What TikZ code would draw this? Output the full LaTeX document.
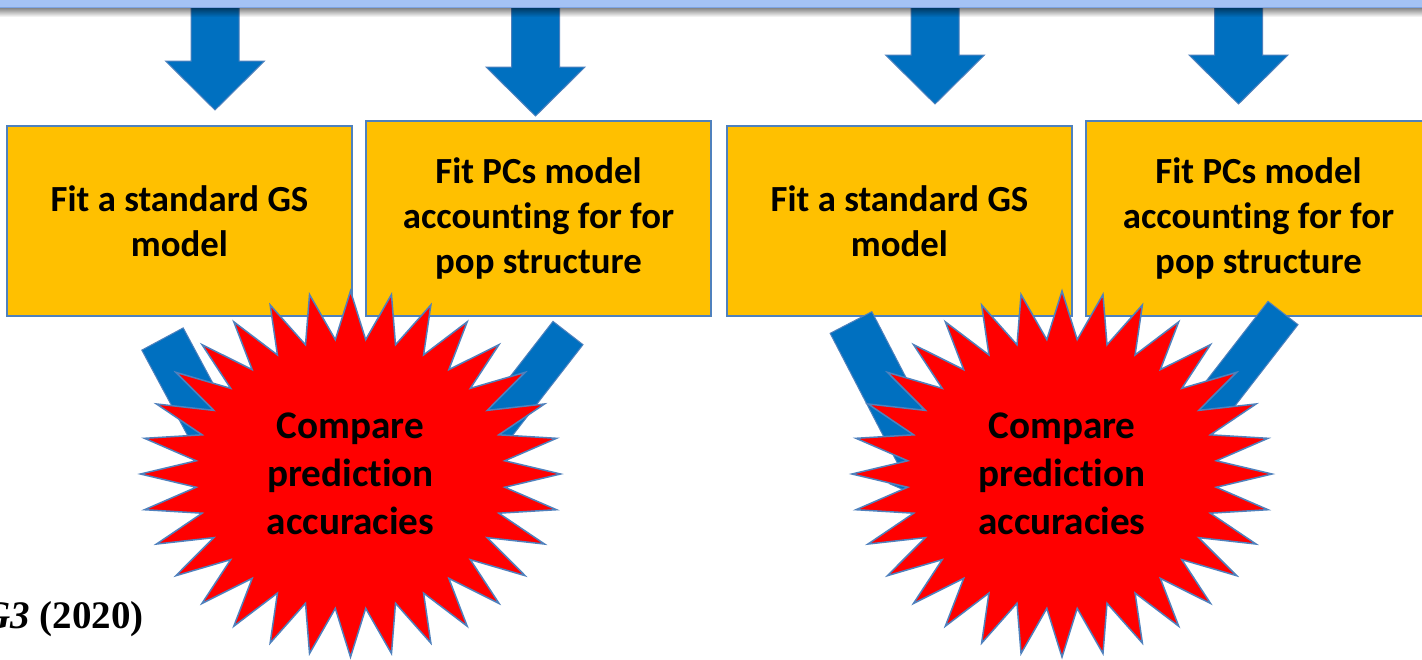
\documentclass[tikz,border=0pt]{standalone}
\usepackage{fontspec}
\setmainfont{Carlito}[Ligatures=NoCommon]
\newfontfamily\timesfont{Liberation Serif}
\usetikzlibrary{calc,fadings}

\definecolor{barblue}{RGB}{164,194,244}
\definecolor{baredge}{RGB}{126,164,226}
\definecolor{arrowblue}{RGB}{0,112,192}
\definecolor{edgeblue}{RGB}{79,129,189}
\definecolor{boxgold}{RGB}{255,192,0}
\definecolor{burstred}{RGB}{255,0,0}

% block arrow from #2 (middle of the tail edge) to #3 (tip)
% #4 half shaft width, #5 half head width, #6 head length
\newcommand{\blockarrow}[6][]{%
  \coordinate (ba-h) at ($(#3)!#6!(#2)$);
  \draw[bluearrow,#1] ($(#2)!#4!90:(#3)$) -- ($(ba-h)!#4!90:(#3)$)
    -- ($(ba-h)!#5!90:(#3)$) -- (#3) -- ($(ba-h)!#5!-90:(#3)$)
    -- ($(ba-h)!#4!-90:(#3)$) -- ($(#2)!#4!-90:(#3)$) -- cycle;}

% 32-point starburst around a named centre
\newcommand{\burst}[1]{%
  \draw[burstshape] ($(#1)+(0:210 and 183)$)
    \foreach \k in {1,...,31} {
      -- ($(#1)+({\k*11.25-5.625}:155 and 135)$)
      -- ($(#1)+({\k*11.25}:210 and 183)$) }
    -- ($(#1)+(354.375:155 and 135)$) -- cycle;}

\tikzset{
  bluearrow/.style={fill=arrowblue, draw=edgeblue, line width=0.5pt, line join=miter},
  stepbox/.style={draw=edgeblue, line width=0.75pt, fill=boxgold,
    minimum width=172.5pt, inner sep=0pt, align=center,
    font=\bfseries\fontsize{18.4}{22.5}\selectfont},
  shortbox/.style={stepbox, minimum height=95pt},
  tallbox/.style={stepbox, minimum height=97.5pt},
  burstshape/.style={fill=burstred, draw=edgeblue, line width=0.75pt, line join=miter},
  bursttext/.style={align=center, inner sep=0pt,
    font=\bfseries\fontsize{19.6}{24}\selectfont},
}

\begin{document}
\begin{tikzpicture}[x=0.5pt, y=-0.5pt]
\useasboundingbox (0,0) rectangle (1422,659);
\clip (0,0) rectangle (1422,659);
\fill[white] (0,0) rectangle (1422,659);

% arrows from the banner down to the model boxes
\coordinate (s1) at (215,0);    \coordinate (t1) at (215,110);
\coordinate (s2) at (535.5,0);  \coordinate (t2) at (535.5,116);
\coordinate (s3) at (935,0);    \coordinate (t3) at (935,104);
\coordinate (s4) at (1238.5,0); \coordinate (t4) at (1238.5,104);
\blockarrow{s1}{t1}{12pt}{24.75pt}{24.5pt}
\blockarrow{s2}{t2}{12pt}{24.75pt}{24.5pt}
\blockarrow{s3}{t3}{12pt}{24.75pt}{24.5pt}
\blockarrow{s4}{t4}{12pt}{24.75pt}{24.5pt}

% banner and its drop shadow
\fill[barblue] (-10,-20) rectangle (1432,7);
\draw[baredge, line width=0.5pt] (-10,7) -- (1432,7);
\fill[black, fill opacity=0.5, path fading=south] (-10,7.5) rectangle (1432,17);

% model boxes
\node[shortbox] (gs1) at (179.5,221)  {Fit a standard GS\\model};
\node[tallbox]  (pc1) at (538.5,218.5) {Fit PCs model\\accounting for for\\pop structure};
\node[shortbox] (gs2) at (899.5,221)  {Fit a standard GS\\model};
\node[tallbox]  (pc2) at (1258.5,218.5) {Fit PCs model\\accounting for for\\pop structure};

% arrows from the boxes into the comparisons
\coordinate (u1) at (162.5,339); \coordinate (v1) at (261.4,523.3);
\coordinate (u2) at (568,333);   \coordinate (v2) at (451.5,483.1);
\coordinate (u3) at (851,322.5); \coordinate (v3) at (947.6,508.8);
\coordinate (u4) at (1283,313);  \coordinate (v4) at (1166.5,463.1);
\blockarrow{u1}{v1}{11.75pt}{24.25pt}{24.5pt}
\blockarrow{u2}{v2}{9.5pt}{17.5pt}{20pt}
\blockarrow{u3}{v3}{11.75pt}{20pt}{24.5pt}
\blockarrow{u4}{v4}{9.5pt}{17.5pt}{20pt}

% comparison bursts
\coordinate (c1) at (350.5,474);
\coordinate (c2) at (1062,474);
\burst{c1}
\burst{c2}
\node[bursttext] (cmp1) at (c1) {Compare\\prediction\\accuracies};
\node[bursttext] (cmp2) at (c2) {Compare\\prediction\\accuracies};

% citation
\node[anchor=base east, inner sep=0pt, font=\timesfont\bfseries\fontsize{19.5}{23}\selectfont]
  (cite) at (144,628) {\textit{G3} (2020)};
\end{tikzpicture}
\end{document}
